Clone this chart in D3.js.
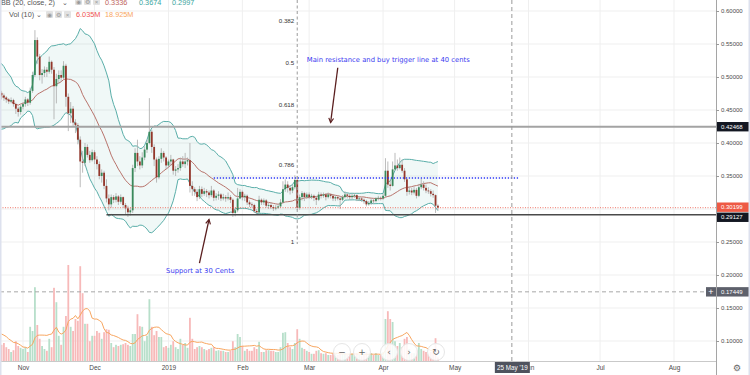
<!DOCTYPE html>
<html>
<head>
<meta charset="utf-8">
<title>XRP daily with BB and volume</title>
<script src="https://d3js.org/d3.v7.min.js"></script>
<style>
  body { margin: 0; background: #fff; }
  svg { display: block; font-family: 'Liberation Sans', Arial, sans-serif; }
  .grid line { stroke: #efefef; stroke-width: 1; }
  .axis text { fill: #4a4a4a; }
  .axis line { stroke: #9a9a9a; }
  .note { font-family: 'DejaVu Sans', Verdana, sans-serif; fill: #3b3bf0; }
</style>
</head>
<body>
<svg id="chart" width="750" height="375"></svg>
<script>
// ======
//  DATA
// ======
// closes before the first visible candle (Oct 3 - Oct 22 2018), only used for the bands
const preCloses = [0.492, 0.505, 0.512, 0.500, 0.498, 0.508, 0.490, 0.472, 0.420, 0.438,
                   0.442, 0.440, 0.462, 0.468, 0.460, 0.452, 0.462, 0.466, 0.468, 0.476];
// volumes (M) Oct 14 - Oct 22, only used for the volume MA
const preVolumes = [50, 47, 58, 42, 50, 37, 42, 47, 50];

const firstDay = new Date(2018, 9, 23);   // daily candles from Oct 23 2018

const closes = [
  // Oct 23-31
  0.472, 0.469, 0.466, 0.463, 0.465, 0.459, 0.452, 0.447, 0.455,
  // Nov
  0.459, 0.466, 0.461, 0.479, 0.503, 0.556, 0.531, 0.503, 0.506, 0.511,
  0.508, 0.523, 0.511, 0.486, 0.497, 0.503, 0.499, 0.517, 0.470, 0.445,
  0.452, 0.431, 0.427, 0.405, 0.372, 0.370, 0.394, 0.382, 0.374, 0.386,
  // Dec
  0.375, 0.368, 0.350, 0.355, 0.335, 0.316, 0.307, 0.318, 0.314, 0.319,
  0.311, 0.318, 0.306, 0.301, 0.295, 0.298, 0.362, 0.385, 0.372, 0.366,
  0.378, 0.390, 0.400, 0.417, 0.394, 0.375, 0.348, 0.376, 0.385, 0.378, 0.366,
  // Jan
  0.372, 0.375, 0.358, 0.360, 0.362, 0.372, 0.368, 0.372, 0.374, 0.335,
  0.330, 0.326, 0.318, 0.330, 0.323, 0.327, 0.325, 0.321, 0.328, 0.317,
  0.320, 0.322, 0.316, 0.318, 0.316, 0.318, 0.314, 0.294, 0.298, 0.316, 0.326,
  // Feb
  0.318, 0.320, 0.310, 0.307, 0.306, 0.297, 0.295, 0.314, 0.310, 0.313,
  0.305, 0.306, 0.303, 0.301, 0.302, 0.304, 0.310, 0.330, 0.337, 0.332,
  0.328, 0.333, 0.344, 0.302, 0.318, 0.324, 0.318, 0.322,
  // Mar
  0.318, 0.320, 0.317, 0.314, 0.322, 0.320, 0.322, 0.318, 0.322, 0.320,
  0.316, 0.318, 0.316, 0.314, 0.318, 0.322, 0.320, 0.318, 0.320, 0.321,
  0.315, 0.316, 0.314, 0.312, 0.307, 0.309, 0.313, 0.312, 0.316, 0.317, 0.316,
  // Apr 1-24
  0.320, 0.358, 0.337, 0.335, 0.360, 0.366, 0.362, 0.367, 0.358, 0.345,
  0.326, 0.328, 0.325, 0.329, 0.320, 0.333, 0.337, 0.332, 0.328, 0.327,
  0.323, 0.321, 0.305, 0.302
];

const highs = [
  0.479, 0.475, 0.471, 0.468, 0.469, 0.467, 0.461, 0.455, 0.458,
  0.462, 0.470, 0.468, 0.484, 0.508, 0.571, 0.560, 0.535, 0.512, 0.516,
  0.515, 0.531, 0.525, 0.515, 0.505, 0.510, 0.510, 0.524, 0.520, 0.475,
  0.462, 0.456, 0.436, 0.430, 0.410, 0.388, 0.400, 0.398, 0.388, 0.390,
  0.389, 0.380, 0.372, 0.360, 0.358, 0.345, 0.322, 0.322, 0.321, 0.324,
  0.321, 0.322, 0.319, 0.309, 0.305, 0.302, 0.367, 0.392, 0.405, 0.380,
  0.386, 0.395, 0.405, 0.468, 0.420, 0.398, 0.378, 0.380, 0.392, 0.388, 0.380,
  0.375, 0.382, 0.376, 0.365, 0.368, 0.378, 0.380, 0.385, 0.378, 0.400,
  0.342, 0.333, 0.330, 0.335, 0.334, 0.332, 0.330, 0.328, 0.335, 0.330,
  0.324, 0.327, 0.324, 0.323, 0.321, 0.325, 0.321, 0.316, 0.302, 0.332, 0.330,
  0.328, 0.323, 0.322, 0.313, 0.310, 0.308, 0.300, 0.320, 0.316, 0.316,
  0.315, 0.310, 0.310, 0.306, 0.306, 0.308, 0.315, 0.342, 0.345, 0.342,
  0.336, 0.337, 0.351, 0.350, 0.322, 0.327, 0.326, 0.325,
  0.325, 0.323, 0.322, 0.320, 0.326, 0.325, 0.325, 0.324, 0.325, 0.323,
  0.322, 0.321, 0.320, 0.319, 0.321, 0.327, 0.324, 0.323, 0.323, 0.324,
  0.322, 0.319, 0.318, 0.316, 0.314, 0.312, 0.316, 0.315, 0.318, 0.320, 0.319,
  0.323, 0.377, 0.372, 0.345, 0.372, 0.385, 0.375, 0.378, 0.375, 0.362,
  0.348, 0.334, 0.332, 0.334, 0.332, 0.338, 0.346, 0.342, 0.337, 0.333,
  0.330, 0.328, 0.322, 0.307
];

const lows = [
  0.466, 0.464, 0.461, 0.459, 0.460, 0.455, 0.444, 0.440, 0.443,
  0.451, 0.455, 0.456, 0.458, 0.476, 0.500, 0.520, 0.495, 0.490, 0.500,
  0.500, 0.505, 0.505, 0.436, 0.460, 0.490, 0.493, 0.497, 0.455, 0.418,
  0.430, 0.426, 0.415, 0.398, 0.333, 0.355, 0.365, 0.378, 0.370, 0.372,
  0.368, 0.360, 0.345, 0.340, 0.330, 0.310, 0.298, 0.302, 0.309, 0.310,
  0.306, 0.308, 0.302, 0.292, 0.288, 0.290, 0.294, 0.356, 0.365, 0.360,
  0.362, 0.374, 0.385, 0.398, 0.385, 0.365, 0.340, 0.345, 0.370, 0.372, 0.360,
  0.362, 0.365, 0.352, 0.350, 0.355, 0.358, 0.364, 0.362, 0.366, 0.325,
  0.320, 0.320, 0.312, 0.315, 0.318, 0.320, 0.318, 0.316, 0.318, 0.312,
  0.313, 0.314, 0.312, 0.313, 0.311, 0.313, 0.309, 0.288, 0.289, 0.295, 0.315,
  0.313, 0.312, 0.306, 0.303, 0.302, 0.294, 0.291, 0.293, 0.306, 0.306,
  0.302, 0.300, 0.300, 0.297, 0.298, 0.300, 0.302, 0.308, 0.326, 0.325,
  0.322, 0.324, 0.330, 0.298, 0.299, 0.313, 0.312, 0.315,
  0.315, 0.315, 0.312, 0.306, 0.312, 0.316, 0.317, 0.313, 0.316, 0.316,
  0.312, 0.312, 0.313, 0.300, 0.312, 0.316, 0.316, 0.314, 0.315, 0.317,
  0.312, 0.312, 0.311, 0.308, 0.304, 0.305, 0.306, 0.308, 0.310, 0.313, 0.313,
  0.314, 0.318, 0.332, 0.328, 0.334, 0.358, 0.358, 0.360, 0.355, 0.341,
  0.320, 0.322, 0.321, 0.322, 0.316, 0.318, 0.330, 0.328, 0.324, 0.323,
  0.319, 0.317, 0.294, 0.298
];

// daily volume, millions
const volumes = [
  27, 30, 23, 20, 15, 18, 33, 25, 22,
  20, 23, 15, 57, 50, 123, 60, 37, 25, 20,
  17, 37, 23, 122, 98, 42, 27, 57, 75, 160,
  57, 50, 70, 67, 158, 113, 62, 62, 33, 42,
  42, 50, 47, 37, 48, 53, 52, 30, 23, 27,
  25, 27, 28, 30, 27, 25, 45, 45, 78, 58,
  57, 33, 42, 103, 57, 43, 50, 40, 40, 23, 25,
  22, 27, 33, 23, 20, 37, 27, 30, 22, 72,
  37, 20, 23, 25, 23, 20, 18, 20, 22, 23,
  17, 18, 17, 17, 15, 15, 17, 33, 23, 45, 40,
  25, 17, 20, 17, 17, 23, 20, 32, 15, 15,
  18, 18, 17, 17, 15, 15, 23, 47, 48, 30,
  23, 20, 30, 53, 37, 22, 20, 17,
  15, 12, 12, 17, 18, 13, 12, 13, 10, 10,
  12, 12, 10, 13, 12, 13, 10, 12, 12, 10,
  13, 10, 8, 10, 15, 12, 13, 10, 13, 10, 10,
  15, 70, 83, 70, 65, 33, 25, 30, 23, 37,
  40, 20, 13, 13, 18, 30, 20, 17, 15, 12,
  15, 18, 38, 6
];

// tick labels / legend text
const priceTicks = [0.10, 0.15, 0.20, 0.25, 0.30, 0.35, 0.40, 0.45, 0.50, 0.55, 0.60];
const bbLegend = ["0.3336", "0.3674", "0.2997"];
const volLegend = ["6.035M", "18.925M"];

// drawn levels
const resistance = 0.42468;
const support = 0.29127;
const lastPrice = 0.30199;
const lowerMark = 0.17449;
const triggerLevel = 0.347;
const fibLevels = [0.382, 0.5, 0.618, 0.786, 1];
const fibTop = 0.792, fibBottom = 0.25;
const fibDate = new Date(2019, 1, 24);
const markerDate = new Date(2019, 4, 25);

// ==========
// DIMENSIONS
// ==========
const svg = d3.select("#chart");
const plotRight = 716, plotBottom = 361;

const x = d3.scaleTime()
  .domain([new Date(2018, 10, 1), new Date(2019, 7, 1)])
  .range([23, 674]);
const y = d3.scaleLinear().domain([0.10, 0.60]).range([341, 11]);
const yVol = d3.scaleLinear().domain([0, 160]).range([plotBottom, 265]);

svg.append("defs").append("clipPath").attr("id", "plotClip")
  .append("rect").attr("width", plotRight).attr("height", plotBottom);

// ====
// GRID
// ====
const months = d3.timeMonth.range(new Date(2018, 10, 1), new Date(2019, 7, 2));
const grid = svg.append("g").attr("class", "grid");
grid.selectAll("line.v").data(months).join("line").attr("class", "v")
  .attr("x1", d => x(d)).attr("x2", d => x(d)).attr("y1", 0).attr("y2", plotBottom);
grid.selectAll("line.h").data(priceTicks).join("line").attr("class", "h")
  .attr("x1", 0).attr("x2", plotRight).attr("y1", d => y(d)).attr("y2", d => y(d));

// =========
// CANDLES
// =========
const candles = closes.map((c, i) => ({
  date: d3.timeDay.offset(firstDay, i),
  open: i === 0 ? preCloses[preCloses.length - 1] : closes[i - 1],
  high: highs[i], low: lows[i], close: c, volume: volumes[i]
}));

// Bollinger bands (20, 2)
const allCloses = preCloses.concat(closes);
const allStart = d3.timeDay.offset(firstDay, -preCloses.length);
const bands = [];
for (let i = 19; i < allCloses.length; i++) {
  const win = allCloses.slice(i - 19, i + 1);
  const m = d3.mean(win);
  const sd = Math.sqrt(d3.mean(win, v => (v - m) ** 2));
  bands.push({ date: d3.timeDay.offset(allStart, i), mid: m, up: m + 2 * sd, lo: m - 2 * sd });
}

// volume MA(10)
const allVols = preVolumes.concat(volumes);
const volStart = d3.timeDay.offset(firstDay, -preVolumes.length);
const volMA = [];
for (let i = 9; i < allVols.length; i++) {
  volMA.push({ date: d3.timeDay.offset(volStart, i), v: d3.mean(allVols.slice(i - 9, i + 1)) });
}

const plot = svg.append("g").attr("clip-path", "url(#plotClip)");

// volume bars
const barW = 1.8;
plot.append("g").selectAll("rect").data(candles).join("rect")
  .attr("x", d => x(d.date) - barW / 2)
  .attr("width", barW)
  .attr("y", d => yVol(d.volume))
  .attr("height", d => yVol(0) - yVol(d.volume))
  .attr("fill", d => d.close >= d.open ? "#b7dfca" : "#f7b9b9");

plot.append("path").datum(volMA)
  .attr("fill", "none").attr("stroke", "#f8a660").attr("stroke-width", 1)
  .attr("d", d3.line().x(d => x(d.date)).y(d => yVol(d.v)));

// bands
plot.append("path").datum(bands)
  .attr("fill", "#2a9d8f").attr("fill-opacity", 0.07)
  .attr("d", d3.area().x(d => x(d.date)).y0(d => y(d.lo)).y1(d => y(d.up)));
plot.append("path").datum(bands)
  .attr("fill", "none").attr("stroke", "#5aaea9").attr("stroke-width", 1)
  .attr("d", d3.line().x(d => x(d.date)).y(d => y(d.up)));
plot.append("path").datum(bands)
  .attr("fill", "none").attr("stroke", "#5aaea9").attr("stroke-width", 1)
  .attr("d", d3.line().x(d => x(d.date)).y(d => y(d.lo)));
plot.append("path").datum(bands)
  .attr("fill", "none").attr("stroke", "#b8736b").attr("stroke-width", 1)
  .attr("d", d3.line().x(d => x(d.date)).y(d => y(d.mid)));

// wicks + bodies
const bodyW = 1.8;
const cg = plot.append("g");
cg.selectAll("line").data(candles).join("line")
  .attr("x1", d => x(d.date)).attr("x2", d => x(d.date))
  .attr("y1", d => y(d.high)).attr("y2", d => y(d.low))
  .attr("stroke", "#a9a9a9").attr("stroke-width", 0.8);
cg.selectAll("rect").data(candles).join("rect")
  .attr("x", d => x(d.date) - bodyW / 2)
  .attr("width", bodyW)
  .attr("y", d => y(Math.max(d.open, d.close)))
  .attr("height", d => Math.max(0.8, Math.abs(y(d.open) - y(d.close))))
  .attr("fill", d => d.close >= d.open ? "#3a8a5c" : "#94372b");

// =========
// DRAWINGS
// =========
const lv = svg.append("g").attr("clip-path", "url(#plotClip)");
lv.append("line").attr("x1", 0).attr("x2", plotRight)
  .attr("y1", y(lastPrice)).attr("y2", y(lastPrice))
  .attr("stroke", "#ef5a4a").attr("stroke-width", 0.8).attr("stroke-dasharray", "1,1.5");
lv.append("line").attr("x1", 0).attr("x2", plotRight)
  .attr("y1", y(resistance)).attr("y2", y(resistance))
  .attr("stroke", "#a3a3a3").attr("stroke-width", 2);
lv.append("line").attr("x1", x(new Date(2018, 11, 6))).attr("x2", plotRight)
  .attr("y1", y(support)).attr("y2", y(support))
  .attr("stroke", "#4a4a4a").attr("stroke-width", 1.3);
lv.append("line").attr("x1", 0).attr("x2", plotRight)
  .attr("y1", y(lowerMark)).attr("y2", y(lowerMark))
  .attr("stroke", "#a8a8a8").attr("stroke-width", 1).attr("stroke-dasharray", "4,3");
lv.append("line").attr("x1", x(new Date(2019, 0, 20))).attr("x2", x(new Date(2019, 4, 28)))
  .attr("y1", y(triggerLevel)).attr("y2", y(triggerLevel))
  .attr("stroke", "#2f3bf5").attr("stroke-width", 1.3).attr("stroke-dasharray", "1.3,1.7");
lv.append("line").attr("x1", x(markerDate)).attr("x2", x(markerDate))
  .attr("y1", 0).attr("y2", plotBottom)
  .attr("stroke", "#9a9a9a").attr("stroke-width", 1).attr("stroke-dasharray", "4,3");

// fib tool
const fibPrice = l => fibTop - l * (fibTop - fibBottom);
lv.append("line").attr("x1", x(fibDate)).attr("x2", x(fibDate))
  .attr("y1", 0).attr("y2", y(fibPrice(1)) + 2)
  .attr("stroke", "#9a9a9a").attr("stroke-width", 1).attr("stroke-dasharray", "3,2.5");
lv.selectAll("text.fib").data(fibLevels).join("text").attr("class", "fib")
  .attr("x", x(fibDate) - 3).attr("y", d => y(fibPrice(d)) + 2)
  .attr("text-anchor", "end").attr("font-size", 6.2).attr("fill", "#333")
  .text(d => d);

// notes and arrows
const notes = [
  { text: "Main resistance and buy trigger line at 40 cents", date: new Date(2019, 1, 28), price: 0.522 },
  { text: "Support at 30 Cents", date: new Date(2018, 11, 31), price: 0.203 }
];
lv.selectAll("text.note").data(notes).join("text").attr("class", "note")
  .attr("x", d => x(d.date)).attr("y", d => y(d.price)).attr("font-size", 6.8)
  .text(d => d.text);

const arrows = [
  { from: [new Date(2019, 2, 13), 0.514], to: [new Date(2019, 2, 10), 0.431] },
  { from: [new Date(2019, 0, 14), 0.218], to: [new Date(2019, 0, 18), 0.284] }
];
arrows.forEach(a => {
  const x1 = x(a.from[0]), y1 = y(a.from[1]), x2 = x(a.to[0]), y2 = y(a.to[1]);
  const ang = Math.atan2(y2 - y1, x2 - x1), hl = 5, spread = 0.5;
  lv.append("line").attr("x1", x1).attr("y1", y1).attr("x2", x2).attr("y2", y2)
    .attr("stroke", "#5a1e1e").attr("stroke-width", 1.3);
  lv.append("path")
    .attr("d", `M${x2 - hl * Math.cos(ang - spread)},${y2 - hl * Math.sin(ang - spread)}L${x2},${y2}L${x2 - hl * Math.cos(ang + spread)},${y2 - hl * Math.sin(ang + spread)}`)
    .attr("fill", "none").attr("stroke", "#5a1e1e").attr("stroke-width", 1.2);
});

// ======
// LEGEND
// ======
const leg = svg.append("g").attr("font-size", 7.3).attr("fill", "#555");
leg.append("text").attr("x", 1).attr("y", 5).text("BB (20, close, 2)");
leg.append("text").attr("x", 62).attr("y", 5).text("⌄");
leg.append("text").attr("x", 9).attr("y", 17.2).text("Vol (10)");
leg.append("text").attr("x", 36).attr("y", 17.2).text("⌄");
[[75, -2], [46, 11]].forEach(([x0, y0]) => {
  [0, 9, 18].forEach((dx, k) => {
    leg.append("rect").attr("x", x0 + dx).attr("y", y0).attr("width", 7).attr("height", 7)
      .attr("rx", 1).attr("fill", "#e2e2e2");
    leg.append("text").attr("x", x0 + dx + 3.5).attr("y", y0 + 5.6).attr("text-anchor", "middle")
      .attr("font-size", 6).attr("fill", "#999").text(["◉", "⚙", "×"][k]);
  });
});
const bbColors = ["#c0665e", "#3aa6a0", "#3aa6a0"];
const bbX = [105, 139, 172];
bbLegend.forEach((t, i) => leg.append("text").attr("x", bbX[i]).attr("y", 5).attr("fill", bbColors[i]).text(t));
const volX = [76, 105];
const volColors = ["#ef5350", "#f8a660"];
volLegend.forEach((t, i) => leg.append("text").attr("x", volX[i]).attr("y", 17.2).attr("fill", volColors[i]).text(t));

// ====
// AXES
// ====
svg.append("rect").attr("x", 0).attr("y", plotBottom).attr("width", 750).attr("height", 375 - plotBottom).attr("fill", "#fff");
svg.append("line").attr("x1", 0).attr("x2", plotRight).attr("y1", plotBottom + 0.5).attr("y2", plotBottom + 0.5)
  .attr("stroke", "#c9c9c9");
svg.append("line").attr("x1", plotRight + 0.5).attr("x2", plotRight + 0.5).attr("y1", 0).attr("y2", 375)
  .attr("stroke", "#a5a5a5");

// price scale; the 0.30 label sits under the price tags, so it is left out like on the platform
svg.append("g").attr("class", "axis")
  .attr("transform", `translate(${plotRight},0)`)
  .call(d3.axisRight(y).tickValues(priceTicks.filter(d => Math.abs(d - 0.30) > 1e-9))
    .tickSize(3).tickPadding(2).tickFormat(d3.format(".5f")))
  .call(g => g.select(".domain").remove())
  .call(g => g.selectAll("text").attr("font-size", 6));

svg.append("g").attr("class", "axis")
  .attr("transform", `translate(0,${plotBottom})`)
  .call(d3.axisBottom(x).tickValues(months).tickSize(0).tickPadding(4)
    .tickFormat(d => d.getMonth() === 0 ? d3.timeFormat("%Y")(d) : d3.timeFormat("%b")(d)))
  .call(g => g.select(".domain").remove())
  .call(g => g.selectAll("text").attr("font-size", 6.5));

// date marker label
const ml = svg.append("g").attr("transform", `translate(${x(markerDate)},${plotBottom})`);
ml.append("rect").attr("x", -17).attr("y", 1).attr("width", 35).attr("height", 11).attr("fill", "#4f535e");
ml.append("text").attr("x", 0.5).attr("y", 8.8).attr("text-anchor", "middle")
  .attr("font-size", 6.3).attr("fill", "#fff").text(d3.timeFormat("%-d %b '%y")(markerDate));

// price labels on the scale
const priceTags = [
  { v: resistance, fill: "#131722", dy: 0 },
  { v: lastPrice, fill: "#ee5a45", dy: -0.5 },
  { v: support, fill: "#131722", dy: 2.5 },
  { v: lowerMark, fill: "#5d606b", dy: 0 }
];
const tags = svg.append("g").selectAll("g").data(priceTags).join("g")
  .attr("transform", d => `translate(${plotRight + 1},${y(d.v) + d.dy})`);
tags.append("rect").attr("x", 0).attr("y", -4.7).attr("width", 33).attr("height", 9.4).attr("fill", d => d.fill);
tags.append("text").attr("x", 4).attr("y", 2.1).attr("font-size", 6).attr("fill", "#fff")
  .text(d => d3.format(".5f")(d.v));
const plusBox = svg.append("g").attr("transform", `translate(${plotRight - 10},${y(lowerMark)})`);
plusBox.append("rect").attr("x", 0).attr("y", -4.7).attr("width", 10).attr("height", 9.4).attr("fill", "#5d606b");
plusBox.append("text").attr("x", 5).attr("y", 3).attr("text-anchor", "middle").attr("font-size", 9)
  .attr("fill", "#fff").text("+");

// gear
svg.append("text").attr("x", 733).attr("y", 371).attr("font-family", "DejaVu Sans").attr("font-size", 9)
  .attr("fill", "#666").text("⚙");

// zoom controls
const ctrls = [["−", 342], ["+", 362], ["‹", 389], ["›", 409], ["↻", 436]];
const cgrp = svg.append("g").selectAll("g").data(ctrls).join("g")
  .attr("transform", d => `translate(${d[1]},352)`);
cgrp.append("circle").attr("r", 8.5).attr("fill", "#fff").attr("fill-opacity", 0.85)
  .attr("stroke", "#e6e6e6");
cgrp.append("text").attr("y", 3).attr("text-anchor", "middle").attr("font-family", "DejaVu Sans")
  .attr("font-size", 9).attr("fill", "#666").text(d => d[0]);

// frame
svg.append("rect").attr("x", 0).attr("y", 0).attr("width", 1.5).attr("height", 375).attr("fill", "#dde1ee");
svg.append("rect").attr("x", 748.5).attr("y", 0).attr("width", 1.5).attr("height", 375).attr("fill", "#dde1ee");
</script>
</body>
</html>
